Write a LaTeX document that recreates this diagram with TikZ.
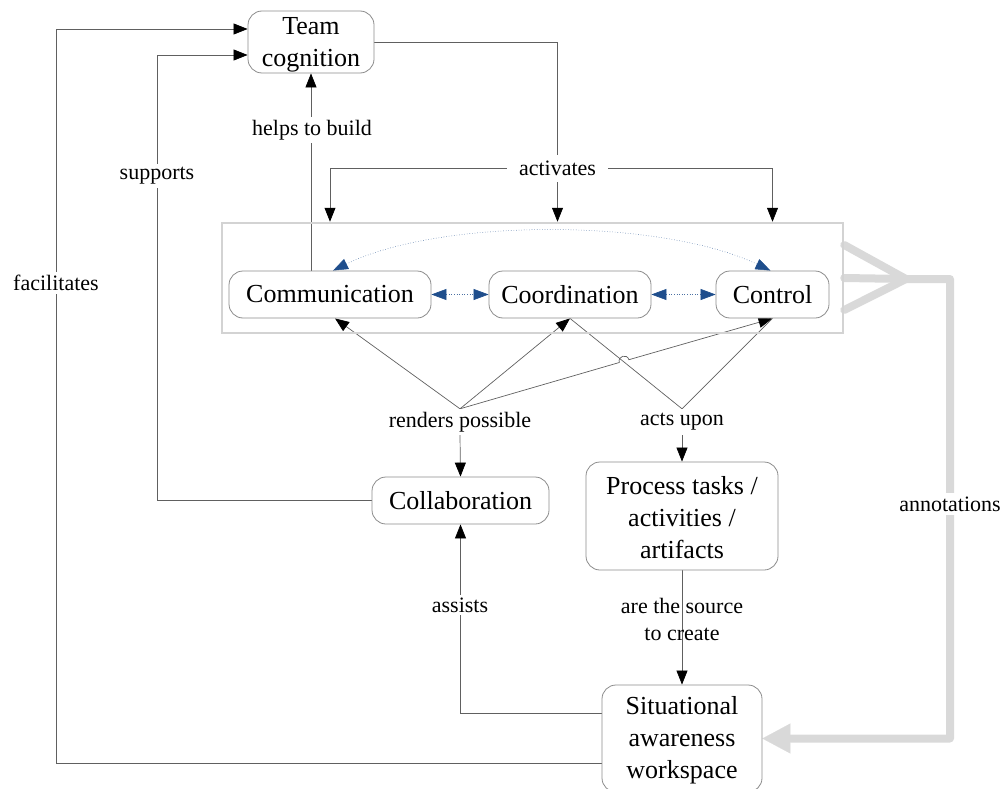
\documentclass[tikz,border=0pt]{standalone}
\usepackage{fontspec}
\setmainfont{Liberation Serif}
\usetikzlibrary{arrows.meta,calc,backgrounds}
\definecolor{boxline}{HTML}{8C8C8C}
\definecolor{wirecol}{HTML}{606060}
\definecolor{framegray}{HTML}{D3D3D3}
\definecolor{bandgray}{HTML}{D9D9D9}
\definecolor{linkblue}{HTML}{1F4E8C}

\begin{document}
\begin{tikzpicture}[x=1pt,y=-1pt,
  box/.style={draw=boxline, line width=0.8pt, rounded corners=14pt, fill=white,
    align=center, inner sep=0pt, font=\fontsize{26}{32}\selectfont},
  lab/.style={fill=white, inner xsep=4pt, inner ysep=3pt, align=center,
    font=\fontsize{22}{27}\selectfont},
  wire/.style={draw=wirecol, line width=0.7pt},
  arr/.style={-{Triangle[length=14pt,width=11pt,color=black]}},
  blu/.style={draw=linkblue!80, line width=0.6pt, dotted,
    {Triangle[length=15pt,width=11pt,color=linkblue]}-{Triangle[length=15pt,width=11pt,color=linkblue]}},
  band/.style={draw=bandgray, line width=8pt, line cap=round, line join=round},
]
\useasboundingbox (0,0) rectangle (1003,789);

% boxes
\node[box, minimum width=126pt, minimum height=62pt] (team) at (311,42) {\rule{0pt}{22pt}Team\\cognition};
\node[draw=framegray, line width=2.5pt, minimum width=621pt, minimum height=110pt, inner sep=0pt] (frame) at (532.5,278) {};
\node[box, minimum width=202pt, minimum height=47pt] (comm) at (330,294.5) {Communication};
\node[box, minimum width=162pt, minimum height=47pt] (coord) at (570,294.5) {Coordination};
\node[box, minimum width=113pt, minimum height=47pt] (ctl) at (772.5,294.5) {Control};
\node[box, minimum width=177pt, minimum height=47pt] (coll) at (460.5,500.5) {Collaboration};
\node[box, minimum width=192pt, minimum height=108pt] (proc) at (682,516) {\rule{0pt}{21pt}Process tasks /\\activities /\\artifacts};
\node[box, minimum width=160pt, minimum height=107pt] (sit) at (682,738.5) {\rule{0pt}{21pt}Situational\\awareness\\workspace};

% labels
\node[lab, inner xsep=12pt, inner ysep=0pt, minimum height=27pt] (act) at (557.5,168.5) {activates};
\node[lab] (hb) at (312,130) {helps to build};
\node[lab] (sup) at (157,176) {supports};
\node[lab] (fac) at (56,283) {facilitates};
\node[lab, inner sep=0pt, minimum height=26pt] (rp) at (460,422) {renders possible};
\node[lab, inner sep=0pt, minimum height=26pt] (ac) at (682,422) {acts upon};
\node[lab] (asi) at (460,605) {assists};
\node[lab, fill=none] (src) at (682,619) {are the source\\to create};
\node[lab, inner ysep=4pt] (ann) at (950,504) {annotations};
\coordinate (conv) at (906,279);

\begin{pgfonlayer}{background}
  % activation from team cognition
  \draw[wire,arr] (team.east) -| (act.center |- frame.north);
  \draw[wire,arr] (act.center) -| (comm.center |- frame.north);
  \draw[wire,arr] (act.center) -| (ctl.center |- frame.north);
  \draw[wire,arr] (team.south |- comm.north) -- (team.south);
  % feedback into team cognition
  \draw[wire,arr] (coll.west) -| ([yshift=-13pt]team.west -| sup) -- ([yshift=-13pt]team.west);
  \draw[wire,arr] ([yshift=-25pt]sit.west) -| ([yshift=13pt]team.west -| fac) -- ([yshift=13pt]team.west);
  \draw[wire,arr] ([yshift=25pt]sit.west) -| (coll.south);
  % renders possible / acts upon
  \draw[wire,arr] (rp.north) -- ([xshift=5pt]comm.south);
  \draw[wire,arr] (rp.north) -- (coord.south);
  \draw[wire,arr] (rp.north) -- (619.3,362.5) .. controls (617.4,356.1) and (627.0,353.3) .. (628.9,359.7) -- (ctl.south);
  \draw[wire] (coord.south) -- (ac.north) -- (ctl.south);
  \draw[wire,arr] (rp.south) -- (coll.north);
  \draw[wire,arr] (ac.south) -- (proc.north);
  \draw[wire,arr] (proc.south) -- (sit.north);
  % links among the three activities
  \draw[blu] (comm.east) -- (coord.west);
  \draw[blu] (coord.east) -- (ctl.west);
  \draw[blu, line width=0.5pt] ([xshift=3pt]comm.north) .. controls (440,218) and (660,218) .. ([xshift=-2pt]ctl.north);
  % annotations band
  \draw[band] ([yshift=33pt]frame.east) -- (conv);
  \draw[band] ([yshift=-32pt]frame.east) -- (conv);
  \draw[band, -{Triangle[length=28pt,width=30pt,line width=0.1pt]}]
    (frame.east) -- (conv) -- (ann.center |- conv) -- (ann.center |- sit.east) -- (sit.east);
\end{pgfonlayer}
\end{tikzpicture}
\end{document}
